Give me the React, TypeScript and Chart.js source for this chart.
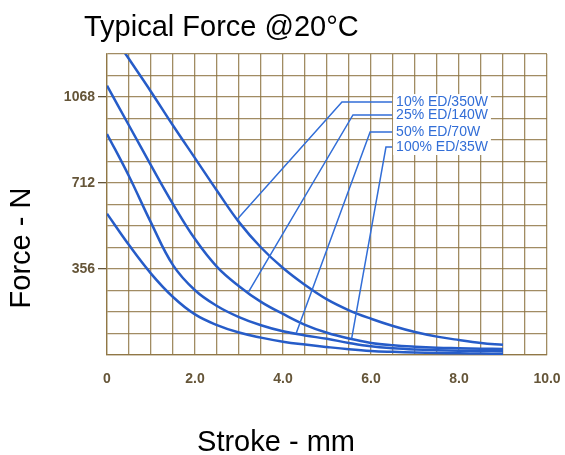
import React, { useEffect, useRef } from 'react';
import { Chart, registerables } from 'chart.js';

Chart.register(...registerables);

const chartTitle = 'Typical Force @20°C';
const xAxisTitle = 'Stroke - mm';
const yAxisTitle = 'Force - N';

// stroke positions (mm)
const strokeMm = [0, 0.5, 1.0, 1.5, 2.0, 2.5, 3.0, 3.5, 4.0, 4.5, 5.0, 5.5, 6.0, 6.5, 7.0, 7.5, 8.0, 8.5, 9.0];

// force curves (N)
const force10ED = [1360, 1225, 1090, 950, 815, 680, 550, 445, 360, 290, 230, 185, 150, 120, 95, 76, 62, 50, 42];
const force25ED = [1115, 950, 785, 625, 480, 365, 285, 220, 170, 125, 92, 68, 50, 40, 34, 30, 28, 26, 25];
const force50ED = [915, 740, 548, 372, 268, 203, 157, 123, 98, 81, 67, 50, 36, 28, 23, 20, 18, 17, 16];
const force100ED = [585, 455, 337, 240, 168, 124, 93, 72, 55, 43, 33, 24, 17, 13, 10, 8, 7, 6, 5];

// curve labels and leader lines
const curveLabels = ['10% ED/350W', '25% ED/140W', '50% ED/70W', '100% ED/35W'];
const leaderStartX = [2.95, 3.22, 4.3, 5.56];
const leaderStartY = [560, 262, 90, 68];
const leaderCornerX = [5.34, 5.59, 5.98, 6.34];
const leaderEndX = 6.48;
const labelForce = [1047, 994, 923, 861];

// axis ticks
const xTickLabels = [0, 2, 4, 6, 8, 10];
const yTickLabels = [356, 712, 1068];
const yMax = 1246;
const yStep = 89;
const xStep = 0.5;

const curveColor = 'rgb(38, 92, 200)';
const leaderColor = 'rgb(50, 110, 215)';
const gridColor = 'rgba(140, 115, 65, 0.82)';
const tickTextColor = '#655538';
const FONT = '"Liberation Sans", Arial, sans-serif';

const textPlugin = {
  id: 'customTexts',
  afterDatasetsDraw(chart: any) {
    const { ctx, scales } = chart;
    const xs = scales.x;
    const ys = scales.y;
    ctx.save();
    ctx.font = `14px ${FONT}`;
    const left = xs.getPixelForValue(leaderEndX) + 1;
    let maxW = 0;
    curveLabels.forEach((t) => { maxW = Math.max(maxW, ctx.measureText(t).width); });
    const top = ys.getPixelForValue(labelForce[0]) - 8;
    const bottom = ys.getPixelForValue(labelForce[labelForce.length - 1]) + 8;
    ctx.fillStyle = '#ffffff';
    ctx.fillRect(left, top, maxW + 6, bottom - top);
    ctx.fillStyle = leaderColor;
    ctx.textAlign = 'left';
    ctx.textBaseline = 'middle';
    curveLabels.forEach((t, i) => {
      ctx.fillText(t, left + 3, ys.getPixelForValue(labelForce[i]) + 0.5);
    });
    ctx.restore();
  },
  afterDraw(chart: any) {
    const { ctx } = chart;
    ctx.save();
    ctx.fillStyle = '#000000';
    ctx.font = `29px ${FONT}`;
    ctx.textAlign = 'left';
    ctx.textBaseline = 'alphabetic';
    ctx.fillText(chartTitle, 84, 36);
    ctx.textAlign = 'center';
    ctx.fillText(xAxisTitle, 276, 451);
    ctx.textBaseline = 'middle';
    ctx.translate(22, 248);
    ctx.rotate(-Math.PI / 2);
    ctx.fillText(yAxisTitle, 0, 0);
    ctx.restore();
  },
};

export default function App() {
  const canvasRef = useRef<HTMLCanvasElement | null>(null);

  useEffect(() => {
    if (!canvasRef.current) return;
    const curves = [force10ED, force25ED, force50ED, force100ED];
    const curveSets = curves.map((vals, i) => ({
      label: curveLabels[i],
      data: strokeMm.map((x, j) => ({ x, y: vals[j] })),
      borderColor: curveColor,
      borderWidth: 2.5,
      pointRadius: 0,
      tension: 0.4,
      fill: false,
      clip: 0,
    }));
    const leaderSets = curveLabels.map((lab, i) => ({
      label: lab + ' leader',
      data: [
        { x: leaderStartX[i], y: leaderStartY[i] },
        { x: leaderCornerX[i], y: labelForce[i] },
        { x: leaderEndX, y: labelForce[i] },
      ],
      borderColor: leaderColor,
      borderWidth: 1.5,
      pointRadius: 0,
      tension: 0,
      fill: false,
      clip: 0,
    }));

    const chart = new Chart(canvasRef.current, {
      type: 'line',
      data: { datasets: [...leaderSets, ...curveSets] as any },
      options: {
        responsive: false,
        animation: false,
        layout: { padding: { top: 54, right: 18, left: 0, bottom: 0 } },
        plugins: {
          legend: { display: false },
          tooltip: { enabled: false },
          title: { display: false },
        },
        scales: {
          x: {
            type: 'linear',
            min: 0,
            max: 10,
            afterFit: (s: any) => {
              s.height = 100;
              s.paddingLeft = 0;
              s.paddingRight = 0;
            },
            ticks: {
              stepSize: xStep,
              autoSkip: false,
              maxRotation: 0,
              minRotation: 0,
              padding: 16,
              color: tickTextColor,
              font: { family: FONT, size: 14, weight: 'bold' },
              callback: (v: any) => {
                const n = Number(v);
                if (!xTickLabels.some((t) => Math.abs(t - n) < 1e-6)) return '';
                return n === 0 ? '0' : n.toFixed(1);
              },
            },
            grid: { color: gridColor, lineWidth: 1.3, drawTicks: false },
            border: { display: true, color: gridColor, width: 1.3 },
          },
          y: {
            type: 'linear',
            min: 0,
            max: yMax,
            afterFit: (s: any) => {
              s.width = 107;
              s.paddingTop = 0;
              s.paddingBottom = 0;
            },
            ticks: {
              stepSize: yStep,
              autoSkip: false,
              padding: 3,
              color: tickTextColor,
              font: { family: FONT, size: 14, weight: 'bold' },
              callback: (v: any) => (yTickLabels.includes(Number(v)) ? String(v) : ''),
            },
            grid: {
              color: gridColor,
              lineWidth: 1.3,
              tickLength: 9,
              tickColor: (c: any) => (c.tick && yTickLabels.includes(c.tick.value) ? tickTextColor : 'rgba(0,0,0,0)'),
            },
            border: { display: true, color: gridColor, width: 1.3 },
          },
        },
      } as any,
      plugins: [textPlugin],
    });
    return () => chart.destroy();
  }, []);

  return (
    <div style={{ position: 'fixed', left: 0, top: 0, width: 565, height: 455, background: '#fff' }}>
      <canvas ref={canvasRef} width={565} height={455} style={{ width: 565, height: 455 }} />
    </div>
  );
}
